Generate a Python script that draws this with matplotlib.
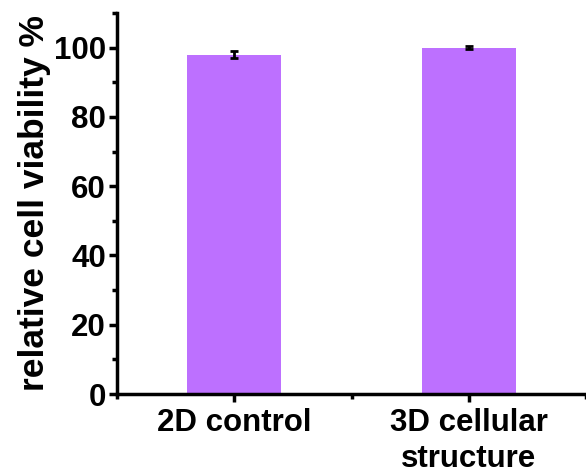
import matplotlib
matplotlib.use("Agg")
import matplotlib.pyplot as plt
from matplotlib.ticker import MultipleLocator

# --- DATA ---
categories = ["2D control", "3D cellular\nstructure"]
viability = [98.0, 100.0]
errors = [1.0, 0.35]

plt.rcParams['font.family'] = ['Liberation Sans', 'DejaVu Sans']
plt.rcParams['font.weight'] = 'bold'

fig = plt.figure(figsize=(5.86, 4.75), dpi=100)
ax = fig.add_axes([0.1997, 0.1705, 0.8003, 0.8021])

xpos = [1, 2]
ax.bar(xpos, viability, width=0.4, color='#bd70ff', edgecolor='none',
       yerr=errors, error_kw=dict(ecolor='black', elinewidth=2, capsize=3, capthick=2))

ax.set_xlim(0.5, 2.5)
ax.set_ylim(0, 110)
ax.set_xticks(xpos)
ax.set_xticklabels(categories, fontsize=22.5, fontweight='bold', linespacing=1.25)
ax.xaxis.set_minor_locator(MultipleLocator(0.5))
ax.yaxis.set_major_locator(MultipleLocator(20))
ax.yaxis.set_minor_locator(MultipleLocator(10))
for lab in ax.get_yticklabels():
    lab.set_fontsize(22.5)
    lab.set_fontweight('bold')

ax.tick_params(axis='y', which='major', direction='out', length=6, width=2.5, pad=2)
ax.tick_params(axis='x', which='major', direction='out', length=6, width=2.5, pad=4)
ax.tick_params(axis='both', which='minor', direction='out', length=3.5, width=2.5)

ax.spines['top'].set_visible(False)
ax.spines['right'].set_visible(False)
ax.spines['left'].set_linewidth(2.5)
ax.spines['bottom'].set_linewidth(2.5)

ax.set_ylabel('relative cell viability %', fontsize=25.5, fontweight='bold', labelpad=2)

fig.savefig('out.png', dpi=100)
